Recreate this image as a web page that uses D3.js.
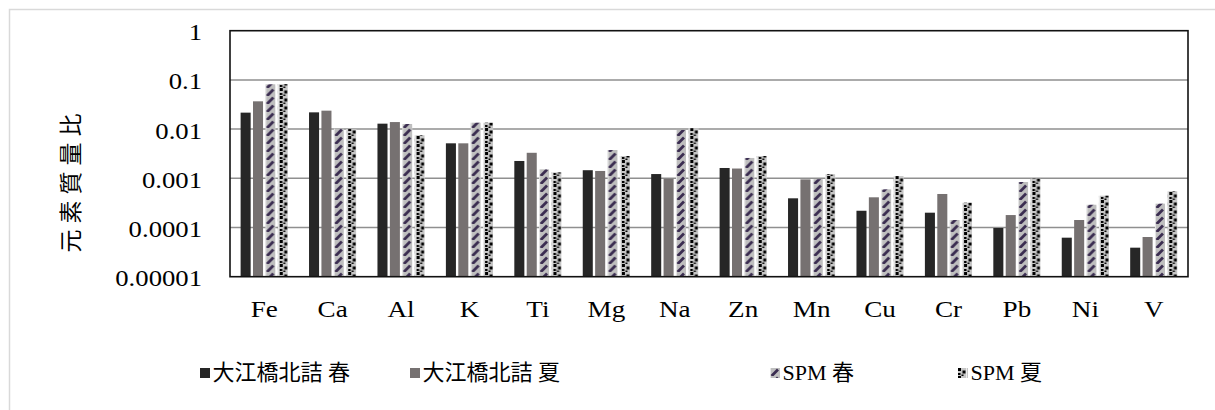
<!DOCTYPE html>
<html>
<head>
<meta charset="utf-8">
<script src="https://cdn.jsdelivr.net/npm/d3@7"></script>
<style>
  html, body { margin: 0; padding: 0; background: #fff; }
  svg { display: block; }
  text { font-family: "Liberation Serif", "Times New Roman", "Noto Sans CJK JP", serif; font-weight: 400; fill: #000; }
  .cjk { font-family: "Liberation Serif", "Noto Sans CJK JP"; font-weight: 400; }
</style>
</head>
<body>
<svg id="chart" width="1215" height="410"></svg>
<script>
// Element names along the x axis
const elements = ["Fe", "Ca", "Al", "K", "Ti", "Mg", "Na", "Zn", "Mn", "Cu", "Cr", "Pb", "Ni", "V"];

// Series names
const seriesNames = ["大江橋北詰 春", "大江橋北詰 夏", "SPM 春", "SPM 夏"];

// Element mass ratios per series
const ohebashiSpring = [0.0216, 0.0219, 0.0129, 0.00514, 0.00225, 0.00146, 0.00122, 0.00162, 0.000392, 0.000219, 0.000200, 0.0000977, 0.0000621, 0.0000389];
const ohebashiSummer = [0.0367, 0.0237, 0.0139, 0.00514, 0.00330, 0.00141, 0.00098, 0.00158, 0.00095, 0.000411, 0.000480, 0.000179, 0.000142, 0.0000641];
const spmSpring      = [0.0814, 0.0102, 0.0127, 0.0135, 0.00152, 0.00376, 0.0096, 0.00259, 0.00096, 0.000597, 0.000142, 0.000841, 0.000290, 0.000305];
const spmSummer      = [0.0820, 0.0100, 0.0075, 0.0135, 0.00132, 0.00284, 0.0104, 0.00284, 0.00121, 0.00111, 0.000319, 0.00098, 0.000443, 0.000544];

// Y axis tick values and their labels
const yTicks = [1, 0.1, 0.01, 0.001, 0.0001, 0.00001];
const yTickLabels = ["1", "0.1", "0.01", "0.001", "0.0001", "0.00001"];

const yTitle = "元素質量比";

const seriesValues = [ohebashiSpring, ohebashiSummer, spmSpring, spmSummer];

const svg = d3.select("#chart");

// Outer chart frame
svg.append("rect")
  .attr("x", 9.5).attr("y", 9.5)
  .attr("width", 1230).attr("height", 420)
  .attr("fill", "#fff")
  .attr("stroke", "#d9d9d9").attr("stroke-width", 1.5);

const plot = { left: 230, right: 1188, top: 30.7, bottom: 276.7 };

const x = d3.scaleBand()
  .domain(elements)
  .range([plot.left, plot.right])
  .paddingInner(0.31)
  .paddingOuter(0.155);

const xs = d3.scaleBand()
  .domain(d3.range(seriesNames.length))
  .range([0, x.bandwidth()])
  .paddingInner(0.19);

const y = d3.scaleLog()
  .domain([1e-5, 1])
  .range([plot.bottom, plot.top]);

// Horizontal stretch used for the axis lettering
function stretch(sel, k) {
  sel.each(function () {
    const w = this.getComputedTextLength();
    d3.select(this).attr("textLength", w * k).attr("lengthAdjust", "spacingAndGlyphs");
  });
}

// Fill patterns for the SPM series
const defs = svg.append("defs");

function hatchPattern(id, px) {
  const p = defs.append("pattern")
    .attr("id", id)
    .attr("patternUnits", "userSpaceOnUse")
    .attr("x", px).attr("y", 0)
    .attr("width", 10).attr("height", 8);
  p.append("rect").attr("width", 10).attr("height", 8).attr("fill", "#bfbfbf");
  p.append("rect").attr("width", 1).attr("height", 8).attr("fill", "#e6e6e6");
  p.append("path")
    .attr("d", "M2.6,7 L7,2.6")
    .attr("stroke", "#3a2c50").attr("stroke-width", 2.8)
    .attr("stroke-linecap", "square");
}

function dotPattern(id, px) {
  const p = defs.append("pattern")
    .attr("id", id)
    .attr("patternUnits", "userSpaceOnUse")
    .attr("x", px).attr("y", 0)
    .attr("width", 10).attr("height", 8);
  p.append("rect").attr("width", 10).attr("height", 8).attr("fill", "#c6c6c6");
  p.append("rect").attr("width", 1).attr("height", 8).attr("fill", "#ececec");
  const blk = [[2, 0, 3, 3], [6.5, 2.5, 3, 3], [2, 5, 2.5, 2], [5.5, 6.5, 2, 1.5]];
  blk.forEach(b => p.append("rect")
    .attr("x", b[0]).attr("y", b[1]).attr("width", b[2]).attr("height", b[3])
    .attr("fill", "#000"));
}

elements.forEach((el, i) => {
  hatchPattern("hatch-" + i, x(el) + xs(2));
  dotPattern("dots-" + i, x(el) + xs(3));
});

function fillFor(s, i) {
  if (s === 0) return "#262626";
  if (s === 1) return "#767171";
  if (s === 2) return "url(#hatch-" + i + ")";
  return "url(#dots-" + i + ")";
}

// Gridlines
svg.append("g")
  .selectAll("line")
  .data(yTicks.slice(1, -1))
  .join("line")
  .attr("x1", plot.left).attr("x2", plot.right)
  .attr("y1", d => y(d)).attr("y2", d => y(d))
  .attr("stroke", "#8f8f8f").attr("stroke-width", 1.5);

// Bars
const barData = [];
seriesValues.forEach((vals, s) => {
  vals.forEach((v, i) => barData.push({ s, i, el: elements[i], v }));
});

svg.append("g")
  .selectAll("rect")
  .data(barData)
  .join("rect")
  .attr("x", d => x(d.el) + xs(d.s))
  .attr("width", xs.bandwidth())
  .attr("y", d => y(d.v))
  .attr("height", d => plot.bottom - y(d.v))
  .attr("fill", d => fillFor(d.s, d.i));

// Plot area frame
svg.append("rect")
  .attr("x", plot.left).attr("y", plot.top)
  .attr("width", plot.right - plot.left).attr("height", plot.bottom - plot.top)
  .attr("fill", "none")
  .attr("stroke", "#111").attr("stroke-width", 1.6);

// Y tick labels
svg.append("g")
  .selectAll("text")
  .data(yTicks)
  .join("text")
  .attr("x", 202)
  .attr("y", d => y(d) + 9.5)
  .attr("text-anchor", "end")
  .attr("font-size", 23)
  .text((d, i) => yTickLabels[i])
  .call(stretch, 1.16);

// X labels
svg.append("g")
  .selectAll("text")
  .data(elements)
  .join("text")
  .attr("x", d => x(d) + x.bandwidth() / 2)
  .attr("y", 317)
  .attr("text-anchor", "middle")
  .attr("font-size", 23)
  .text(d => d)
  .call(stretch, 1.18);

// Y axis title
svg.append("text")
  .attr("class", "cjk")
  .attr("transform", "translate(79,180) rotate(-90)")
  .attr("text-anchor", "middle")
  .attr("font-size", 23)
  .attr("letter-spacing", 6)
  .text(yTitle);

// Legend
const legendX = [200, 410, 770, 958];
const legend = svg.append("g")
  .selectAll("g")
  .data(seriesNames)
  .join("g")
  .attr("transform", (d, i) => `translate(${legendX[i]},368)`);

hatchPattern("legend-hatch", legendX[2]);
dotPattern("legend-dots", legendX[3]);

legend.append("rect")
  .attr("width", 10).attr("height", 10)
  .attr("fill", (d, i) => i === 2 ? "url(#legend-hatch)" : i === 3 ? "url(#legend-dots)" : fillFor(i, 0));

legend.append("text")
  .attr("class", "cjk")
  .attr("x", 12.5)
  .attr("y", 12)
  .attr("font-size", 22)
  .text(d => d);
</script>
</body>
</html>
